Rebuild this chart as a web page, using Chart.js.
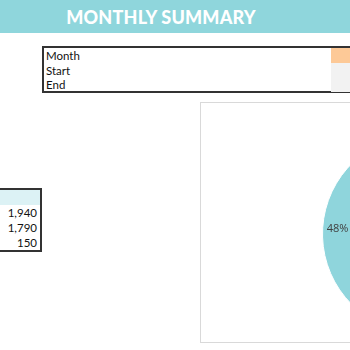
<!DOCTYPE html>
<html>
<head>
<meta charset="utf-8">
<script src="https://cdn.jsdelivr.net/npm/chart.js@4.4.1/dist/chart.umd.min.js"></script>
<style>
  html, body { margin:0; padding:0; width:350px; height:350px; overflow:hidden; background:#fff; font-family: Lato, "Open Sans", sans-serif; }
  .header { position:absolute; left:0; top:0; width:350px; height:33px; background:#8fd6dc; color:#fff; font-weight:900; font-size:18px; line-height:34px; text-align:center; padding-right:28px; box-sizing:border-box; letter-spacing:0.2px; }
  .period { position:absolute; left:42px; top:46px; width:320px; height:47px; border:2px solid #333; box-sizing:border-box; font-size:11.5px; color:#111; }
  .period .row { height:14.5px; line-height:15px; padding-left:2px; position:relative; }
  .period .row .cell { position:absolute; left:287px; top:0; width:40px; height:100%; }
  .totals { position:absolute; left:-20px; top:188px; width:62px; height:64px; border:2px solid #333; box-sizing:border-box; font-size:11.5px; color:#111; }
  .totals .head { height:15px; background:#dcf2f5; }
  .totals .val { height:15px; line-height:16px; text-align:right; padding-right:3px; }
  .panel { position:absolute; left:200px; top:102px; width:220px; height:239px; border:1px solid #d9d9d9; background:#fff; }
  #pie { position:absolute; left:322px; top:134px; }
</style>
</head>
<body>
<div class="header">MONTHLY SUMMARY</div>
<div class="period" id="period"></div>
<div class="totals" id="totals"></div>
<div class="panel"></div>
<canvas id="pie" width="200" height="200"></canvas>
<script>
const periodLabels = ['Month', 'Start', 'End'];
const periodColors = ['#fdc997', '#f2f2f2', '#f2f2f2'];
const totalsValues = [1940, 1790, 150];

const categories = ['Income', 'Expenses'];
const values = [1940, 1790];
const sliceColors = ['#fbc793', '#8fd5dc'];

document.getElementById('period').innerHTML = periodLabels.map((l, i) => `
    <div class="row">${l}<div class="cell" style="background:${periodColors[i]}"></div></div>
`).join('');

document.getElementById('totals').innerHTML = '<div class="head"></div>' +
    totalsValues.map(v => `<div class="val">${v.toLocaleString('en-US')}</div>`).join('');

// percentage labels inside the slices
const pctLabels = {
    id: 'pctLabels',
    afterDatasetsDraw(chart) {
        const ctx = chart.ctx;
        const data = chart.data.datasets[0].data;
        const total = data.reduce((a, b) => a + b, 0);
        chart.getDatasetMeta(0).data.forEach((arc, i) => {
            const p = arc.getProps(['x', 'y', 'startAngle', 'endAngle', 'outerRadius'], true);
            const mid = (p.startAngle + p.endAngle) / 2;
            const r = p.outerRadius * 0.85;
            ctx.save();
            ctx.font = '11px "Open Sans", sans-serif';
            ctx.fillStyle = '#404040';
            ctx.textAlign = 'center';
            ctx.textBaseline = 'middle';
            ctx.fillText(Math.round(data[i] / total * 100) + '%', p.x + Math.cos(mid) * r, p.y + Math.sin(mid) * r);
            ctx.restore();
        });
    }
};

new Chart(document.getElementById('pie').getContext('2d'), {
    type: 'pie',
    data: {
        labels: categories,
        datasets: [{
            data: values,
            backgroundColor: sliceColors,
            borderColor: '#fff',
            borderWidth: 1
        }]
    },
    options: {
        responsive: false,
        animation: false,
        layout: { padding: 0 },
        plugins: { legend: { display: false }, tooltip: { enabled: false } }
    },
    plugins: [pctLabels]
});
</script>
</body>
</html>
